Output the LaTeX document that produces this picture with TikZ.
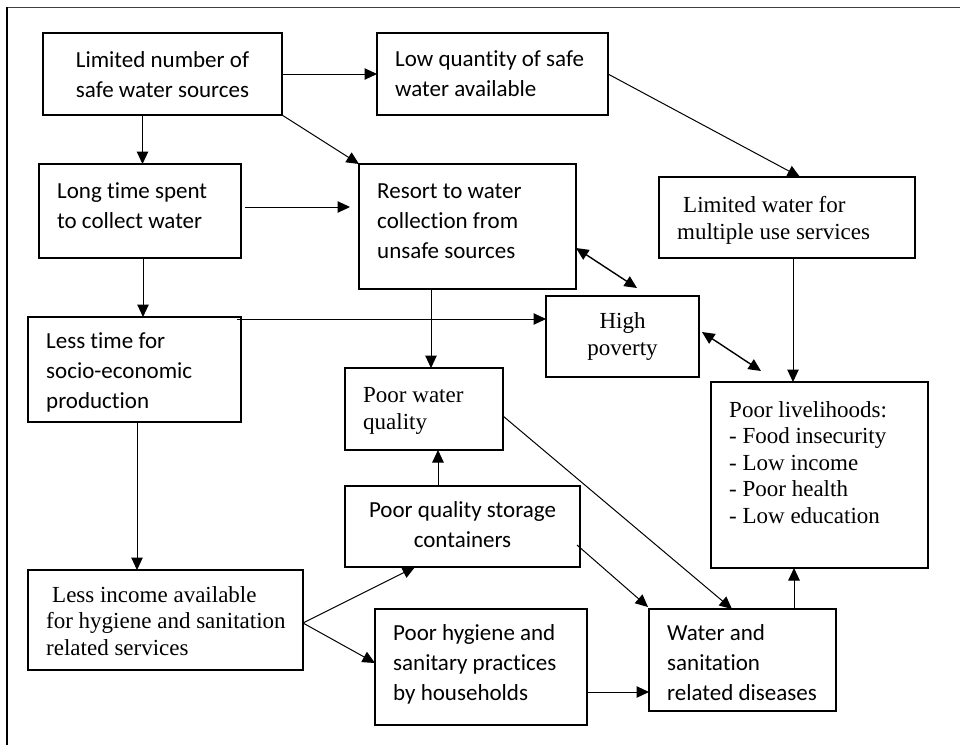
\documentclass[tikz,border=0pt]{standalone}
\usepackage{fontspec}
\setmainfont{Carlito}[Ligatures=NoCommon]
\newfontfamily\tnr{Liberation Serif}
\usetikzlibrary{arrows.meta}
\begin{document}
\begin{tikzpicture}[x=1pt,y=-1pt,
 box/.style={draw, rectangle, inner sep=0pt, outer sep=0pt, line width=1.6pt},
 thickbox/.style={box, line width=2.8pt},
 cal/.style={inner sep=0pt, font=\fontsize{23}{30}\selectfont},
 tms/.style={inner sep=0pt, font=\tnr\fontsize{23}{26.5}\selectfont},
 arr/.style={line width=1pt, -{Triangle[length=12.5pt,width=11.5pt]}},
 dbl/.style={line width=1.4pt, {Triangle[length=12.5pt,width=11.5pt]}-{Triangle[length=12.5pt,width=11.5pt]}},
]
\useasboundingbox (0,0) rectangle (960,745);
% frame
\draw[line width=0.8pt, black!75] (7,7) -- (960,7);
\draw[line width=1.8pt] (7,7) -- (7,745);

% boxes
\node[thickbox, minimum width=239pt, minimum height=82pt] (b1) at (162.5,74) {};
\node[box, minimum width=231pt, minimum height=82pt] (b2) at (492.5,74) {};
\node[box, minimum width=202pt, minimum height=94pt] (b3) at (140,211) {};
\node[box, minimum width=217pt, minimum height=125pt] (b4) at (467.5,226.5) {};
\node[box, minimum width=256pt, minimum height=81pt] (b5) at (787,217.5) {};
\node[thickbox, minimum width=153pt, minimum height=81pt] (b6) at (622.5,336.5) {};
\node[box, minimum width=213pt, minimum height=105pt] (b7) at (134.5,369.5) {};
\node[box, minimum width=158pt, minimum height=82pt] (b8) at (424,409) {};
\node[box, minimum width=235pt, minimum height=81pt] (b9) at (462.5,526.5) {};
\node[box, minimum width=275pt, minimum height=100pt] (b10) at (165.5,620) {};
\node[box, minimum width=212pt, minimum height=116pt] (b11) at (481,667) {};
\node[box, minimum width=187pt, minimum height=102pt] (b12) at (742.5,660) {};
\node[thickbox, minimum width=217pt, minimum height=186pt] (b13) at (819.5,475) {};

% texts (base anchor = baseline of the last line)
\node[cal, anchor=base, align=center] (t1) at (162.5,97) {Limited number of\\safe water sources};
\node[cal, anchor=base west, align=left] (t2) at (395,96) {Low quantity of safe\\water available};
\node[cal, anchor=base west, align=left] (t3) at (57,228) {Long time spent\\to collect water};
\node[cal, anchor=base west, align=left] (t4) at (377,258) {Resort to water\\collection from\\unsafe sources};
\node[tms, anchor=base west, align=left] (t5) at (677,239) {\hspace*{6pt}Limited water for\\multiple use services};
\node[tms, anchor=base, align=center] (t6) at (622.5,355) {High\\poverty};
\node[cal, anchor=base west, align=left] (t7) at (46,408) {Less time for\\socio-economic\\production};
\node[tms, anchor=base west, align=left] (t8) at (363,429) {Poor water\\quality};
\node[cal, anchor=base, align=center] (t9) at (462.5,547) {Poor quality storage\\containers};
\node[tms, anchor=base west, align=left] (t10) at (46,655) {\hspace*{6pt}Less income available\\for hygiene and sanitation\\related services};
\node[cal, anchor=base west, align=left] (t11) at (393,700) {Poor hygiene and\\sanitary practices\\by households};
\node[cal, anchor=base west, align=left] (t12) at (667,700) {Water and\\sanitation\\related diseases};
\node[tms, anchor=base west, align=left] (t13) at (729,523) {Poor livelihoods:\\- Food insecurity\\- Low income\\- Poor health\\- Low education};

% connectors
\draw[arr] (b1.east) -- (b2.west);
\draw[arr] ([xshift=-20pt]b1.south) coordinate (cb) -- (cb |- b3.north);
\draw[arr] (b1.south east) -- (b4.north west);
\draw[arr] ([shift={(4pt,4pt)}]b3.east) coordinate (cd) -- ([xshift=-9pt]b4.west |- cd);
\draw[arr] ([xshift=3pt]b3.south) coordinate (ce) -- (ce |- b7.north);
\draw[arr] (b2.east) -- ([xshift=13pt]b5.north);
\draw[arr] ([xshift=-36.5pt]b4.south) coordinate (cg) -- (cg |- b8.north);
\draw[dbl] ([yshift=-21.5pt]b4.east) -- ([shift={(14.5pt,8pt)}]b6.north);
\draw[arr] ([shift={(-4pt,-2pt)}]b7.north east) coordinate (ci) -- (b6.west |- ci);
\draw[dbl] ([shift={(3pt,4.5pt)}]b6.east) -- ([shift={(-58.5pt,11pt)}]b13.north);
\draw[arr] ([xshift=6pt]b5.south) coordinate (ck) -- (ck |- b13.north);
\draw[arr] ([xshift=2.5pt]b7.south) coordinate (cl) -- (cl |- b10.north);
\draw[arr] ([yshift=-3pt]b10.east) -- ([xshift=-47.5pt]b9.south);
\draw[arr] ([yshift=-3pt]b10.east) -- ([yshift=4pt]b11.west);
\draw[arr] ([xshift=-24.5pt]b9.north) coordinate (co) -- (co |- b8.south);
\draw[arr] ([yshift=-7pt]b8.east) -- ([xshift=-10.5pt]b12.north);
\draw[arr] ([shift={(-3pt,-18.5pt)}]b9.east) -- ([shift={(-1pt,2pt)}]b12.north west);
\draw[arr] ([yshift=-25pt]b11.east) coordinate (cr) -- (b12.west |- cr);
\draw[arr] ([xshift=51.5pt]b12.north) coordinate (cs) -- (cs |- b13.south);
\end{tikzpicture}
\end{document}
